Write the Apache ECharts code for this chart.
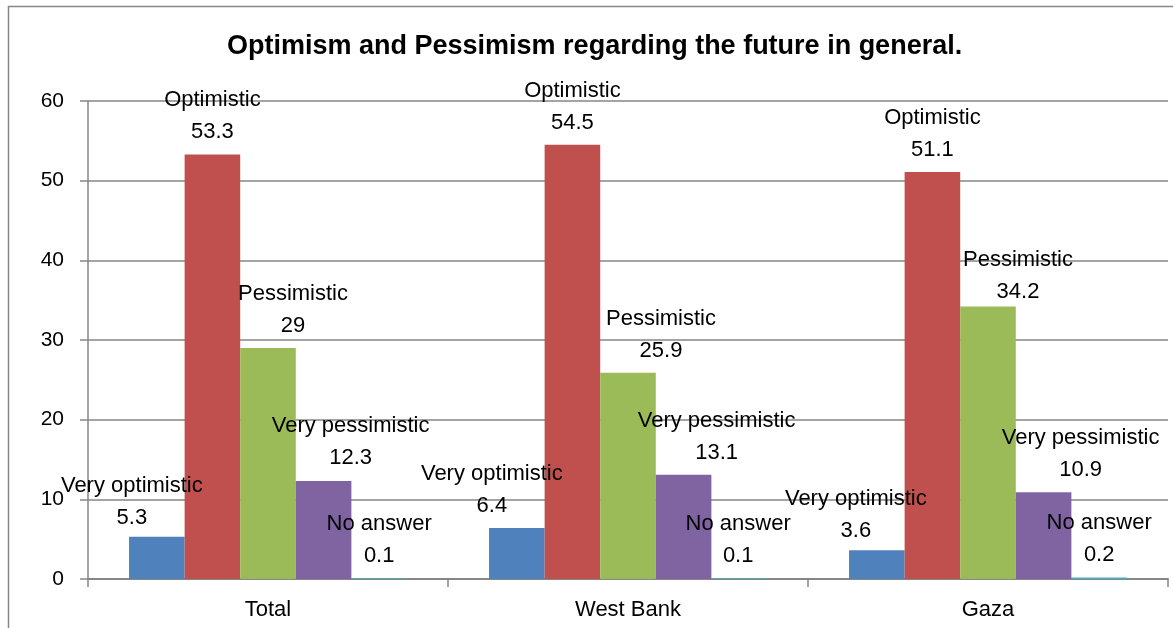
<!DOCTYPE html>
<html>
<head>
<meta charset="utf-8">
<script src="https://cdn.jsdelivr.net/npm/echarts@6/dist/echarts.min.js"></script>
<style>
html,body{margin:0;padding:0;background:#fff;}
#chart{width:1173px;height:628px;}
</style>
</head>
<body>
<div id="chart"></div>
<script>
const title = 'Optimism and Pessimism regarding the future in general.';
const categories = ['Total', 'West Bank', 'Gaza'];
const seriesNames = ['Very optimistic', 'Optimistic', 'Pessimistic', 'Very pessimistic', 'No answer'];
const veryOptimistic = [5.3, 6.4, 3.6];
const optimistic = [53.3, 54.5, 51.1];
const pessimistic = [29, 25.9, 34.2];
const veryPessimistic = [12.3, 13.1, 10.9];
const noAnswer = [0.1, 0.1, 0.2];
const yTicks = [0, 10, 20, 30, 40, 50, 60];

const values = [veryOptimistic, optimistic, pessimistic, veryPessimistic, noAnswer];
const colors = ['#4F81BD', '#C0504D', '#9BBB59', '#8064A2', '#4BACC6'];
// label nudges (layout only), per series then per category: [dx, dy]
const labelNudge = [
  [[-25, 3], [-25, 0], [-21, 3]],
  [[0, 0], [0, 0], [0, 0]],
  [[25, 0], [33, 0], [30, 7]],
  [[27, -1], [33, 0], [37, 0]],
  [[0, 0], [-1, 0], [0, 0]]
];
const FONT = 'Liberation Sans';

const chart = echarts.init(document.getElementById('chart'));
chart.setOption({
  animation: false,
  backgroundColor: '#fff',
  textStyle: {fontFamily: FONT},
  title: {
    text: title,
    left: 222,
    top: 28,
    padding: 5,
    textStyle: {fontFamily: FONT, fontSize: 27, fontWeight: 'bold', color: '#000'}
  },
  graphic: [{
    type: 'rect',
    shape: {x: 8.5, y: 6.5, width: 1200, height: 700},
    style: {fill: 'none', stroke: '#868686', lineWidth: 1.5},
    silent: true
  }],
  grid: {left: 88, right: 5, top: 101, bottom: 49, containLabel: false},
  xAxis: {
    type: 'category',
    data: categories,
    axisLine: {show: true, lineStyle: {color: '#868686', width: 2}},
    axisTick: {show: true, length: 8, lineStyle: {color: '#868686', width: 1.5}},
    axisLabel: {fontSize: 22, color: '#000', margin: 20, fontFamily: FONT},
    splitLine: {show: false}
  },
  yAxis: {
    type: 'value',
    min: yTicks[0],
    max: yTicks[yTicks.length - 1],
    interval: yTicks[1] - yTicks[0],
    axisLine: {show: true, lineStyle: {color: '#868686', width: 1.5}},
    axisTick: {show: true, length: 8, lineStyle: {color: '#868686', width: 1.5}},
    axisLabel: {fontSize: 21, color: '#000', margin: 24, fontFamily: FONT},
    splitLine: {show: true, lineStyle: {color: '#868686', width: 1.5}}
  },
  series: seriesNames.map((name, si) => ({
    name: name,
    type: 'bar',
    barGap: '0%',
    barCategoryGap: '22.8%',
    itemStyle: {color: colors[si]},
    label: {
      show: true,
      position: 'top',
      distance: 6,
      formatter: '{a}\n{c}',
      fontSize: 22,
      lineHeight: 32,
      color: '#000',
      fontFamily: FONT
    },
    data: values[si].map((v, ci) => ({
      value: v,
      label: {offset: labelNudge[si][ci]}
    }))
  }))
});
</script>
</body>
</html>
